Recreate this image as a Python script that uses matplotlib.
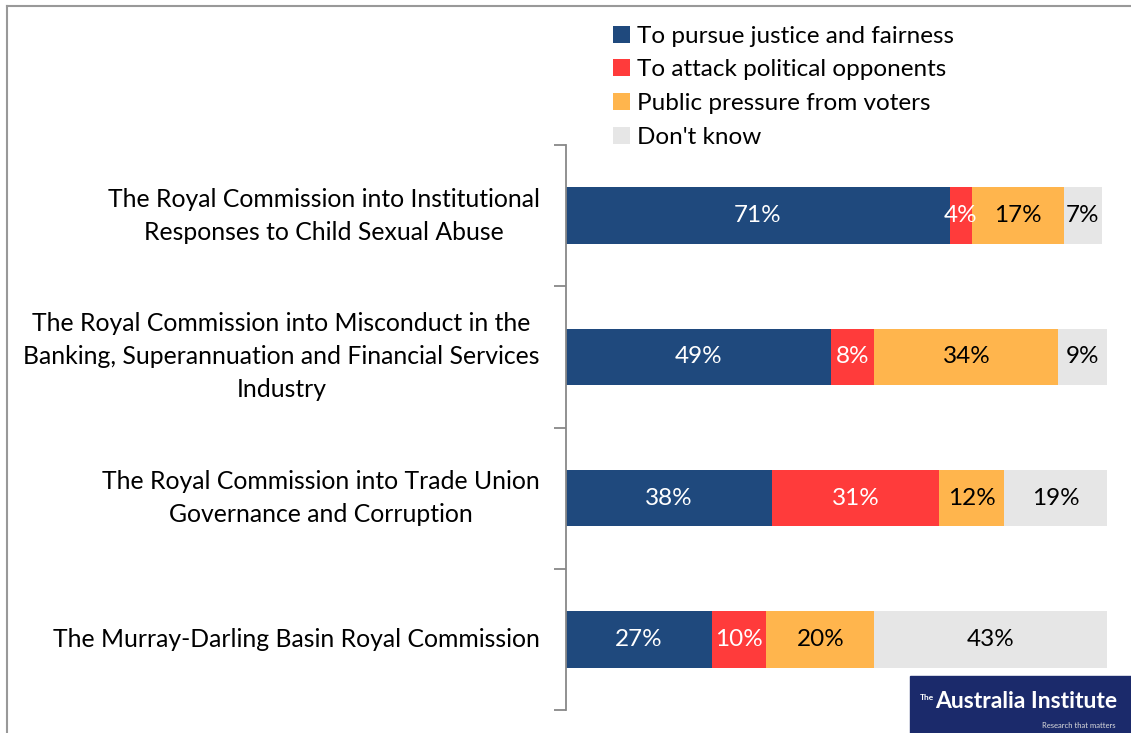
import matplotlib
matplotlib.use("Agg")
import matplotlib.pyplot as plt
from matplotlib.patches import Rectangle

categories = [
    "The Royal Commission into Institutional\nResponses to Child Sexual Abuse",
    "The Royal Commission into Misconduct in the\nBanking, Superannuation and Financial Services\nIndustry",
    "The Royal Commission into Trade Union\nGovernance and Corruption",
    "The Murray-Darling Basin Royal Commission",
]
series_names = ["To pursue justice and fairness", "To attack political opponents",
                "Public pressure from voters", "Don't know"]
justice = [71, 49, 38, 27]
attack = [4, 8, 31, 10]
pressure = [17, 34, 12, 20]
dont_know = [7, 9, 19, 43]
colors = ["#1F497D", "#FF3B3B", "#FFB54D", "#E6E6E6"]
text_colors = ["white", "white", "black", "black"]

plt.rcParams['font.family'] = ['Lato', 'DejaVu Sans']
fig = plt.figure(figsize=(11.31, 7.33), dpi=100)
W, H = 1131, 733
ax = fig.add_axes([566 / W, 1 - 710 / H, (1107 - 566) / W, (710 - 145) / H])

series = [justice, attack, pressure, dont_know]
ypos = list(range(len(categories)))
left = [0] * len(categories)
handles = []
for vals, c, tc, name in zip(series, colors, text_colors, series_names):
    bars = ax.barh(ypos, vals, left=left, height=0.4, color=c, label=name)
    handles.append(bars)
    for y, v, l in zip(ypos, vals, left):
        ax.text(l + v / 2, y, f"{v}%", ha="center", va="center", color=tc, fontsize=17.5)
    left = [a + b for a, b in zip(left, vals)]

ax.set_xlim(0, 100)
ax.set_ylim(len(categories) - 0.5, -0.5)
ax.set_yticks([i - 0.5 for i in range(len(categories) + 1)])
ax.set_yticklabels([])
ax.set_yticks(ypos, minor=True)
ax.set_yticklabels(categories, minor=True, fontsize=17.8, linespacing=1.52)
for lbl in ax.get_yticklabels(minor=True):
    lbl.set_horizontalalignment("right")
    lbl.set_verticalalignment("center")
    lbl.set_multialignment("center")
ax.tick_params(axis="y", which="minor", length=0, pad=19)
ax.tick_params(axis="y", which="major", length=9, width=1.3, color="#888888")
ax.set_xticks([])
for s in ["top", "right", "bottom"]:
    ax.spines[s].set_visible(False)
ax.spines["left"].set_color("#888888")
ax.spines["left"].set_linewidth(1.3)

leg = fig.legend(handles=handles, labels=series_names, loc="upper left",
                 bbox_to_anchor=(603 / W, 1 - 16 / H), frameon=False, fontsize=17.5,
                 handlelength=0.7, handleheight=0.7, handletextpad=0.3,
                 labelspacing=0.52, borderaxespad=0)

# outer frame
fig.add_artist(plt.Line2D([7 / W, 7 / W], [0, 1 - 6 / H], transform=fig.transFigure,
                          color="#999999", lw=1.5))
fig.add_artist(plt.Line2D([7 / W, 1], [1 - 6 / H, 1 - 6 / H], transform=fig.transFigure,
                          color="#999999", lw=1.5))

# logo
fig.add_artist(Rectangle((910 / W, 0), (W - 910) / W, 57 / H, transform=fig.transFigure,
                         color="#1B2A6B"))
fig.text(934 / W, 1 - 698 / H, "The", color="white", fontsize=6, ha="right",
         va="center", fontweight="bold")
fig.text(935 / W, 1 - 702 / H, "Australia Institute", color="white", fontsize=16.5,
         ha="left", va="center", fontweight="bold")
fig.text(1116 / W, 1 - 726 / H, "Research that matters", color="#DDDDDD", fontsize=5.5,
         ha="right", va="center")

fig.savefig("out.png", dpi=100)
